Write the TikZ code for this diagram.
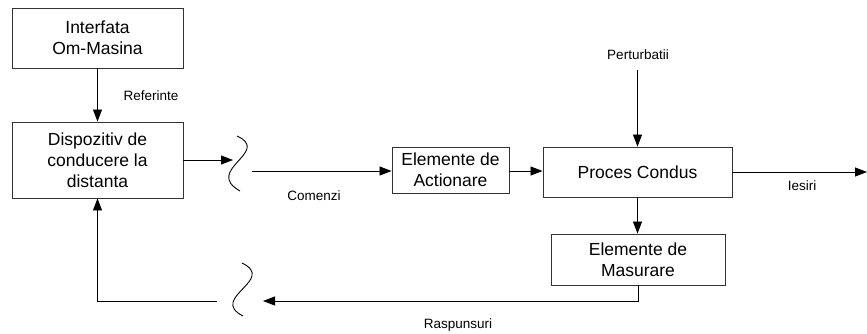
\documentclass[tikz,border=0pt]{standalone}
\usepackage{fontspec}
\setmainfont{Liberation Sans}
\usetikzlibrary{arrows.meta}
\begin{document}
\begin{tikzpicture}[x=1pt,y=-1pt,
  block/.style={draw=black!80,line width=0.9pt,fill=white,align=center,inner sep=0pt,
    font=\fontsize{17.5}{21}\selectfont},
  lbl/.style={font=\fontsize{13.5}{16}\selectfont,inner sep=0pt},
  wire/.style={draw=black,line width=0.8pt},
  flow/.style={wire,-{Triangle[length=12pt,width=9pt]}},
  brk/.style={draw=black,line width=0.9pt}]
\useasboundingbox (0,0) rectangle (867,333);

% blocks
\node[block,minimum width=171pt,minimum height=60pt] (hmi) at (97.5,38) {Interfata\\Om-Masina};
\node[block,minimum width=171pt,minimum height=76pt] (ctrl) at (97.5,160) {Dispozitiv de\\conducere la\\distanta};
\node[block,minimum width=117pt,minimum height=46pt] (act) at (450.5,170) {Elemente de\\Actionare};
\node[block,minimum width=189pt,minimum height=50pt] (proc) at (637.5,172) {Proces Condus};
\node[block,minimum width=174pt,minimum height=51pt] (meas) at (638,259.5) {Elemente de\\Masurare};

% labels
\node[lbl] (ref) at (151,96) {Referinte};
\node[lbl] (cmd) at (314,196) {Comenzi};
\node[lbl] (dist) at (638,55) {Perturbatii};
\node[lbl] (out) at (802,186) {Iesiri};
\node[lbl] (resp) at (458,325) {Raspunsuri};

% helper points
\coordinate (cmdend) at (233,160);
\coordinate (cmdstart) at (252,171);
\coordinate (diststart) at (637.5,70);
\coordinate (outend) at (867,172);
\coordinate (respcorner) at (638,301);
\coordinate (respend) at (263,301);
\coordinate (fbstart) at (217,301);
\coordinate (fbcorner) at (97.5,301);

% connectors
\draw[flow] (hmi) -- (ctrl);
\draw[flow] (ctrl.east |- cmdend) -- (cmdend);
\draw[flow] (cmdstart) -- (act.west |- cmdstart);
\draw[flow] (act.east |- cmdstart) -- (proc.west |- cmdstart);
\draw[flow] (diststart) -- (proc.north);
\draw[flow] (proc.east) -- (outend);
\draw[flow] (proc.south) -- (proc.south |- meas.north);
\draw[flow] (meas.south) -- (respcorner) -- (respend);
\draw[flow] (fbstart) -- (fbcorner) -- (ctrl.south);

% link break marks
\draw[brk] (237,136) .. controls (272,152) and (203,170) .. (240,191);
\draw[brk] (242,263) .. controls (277,280) and (208,298) .. (243,316);
\end{tikzpicture}
\end{document}
